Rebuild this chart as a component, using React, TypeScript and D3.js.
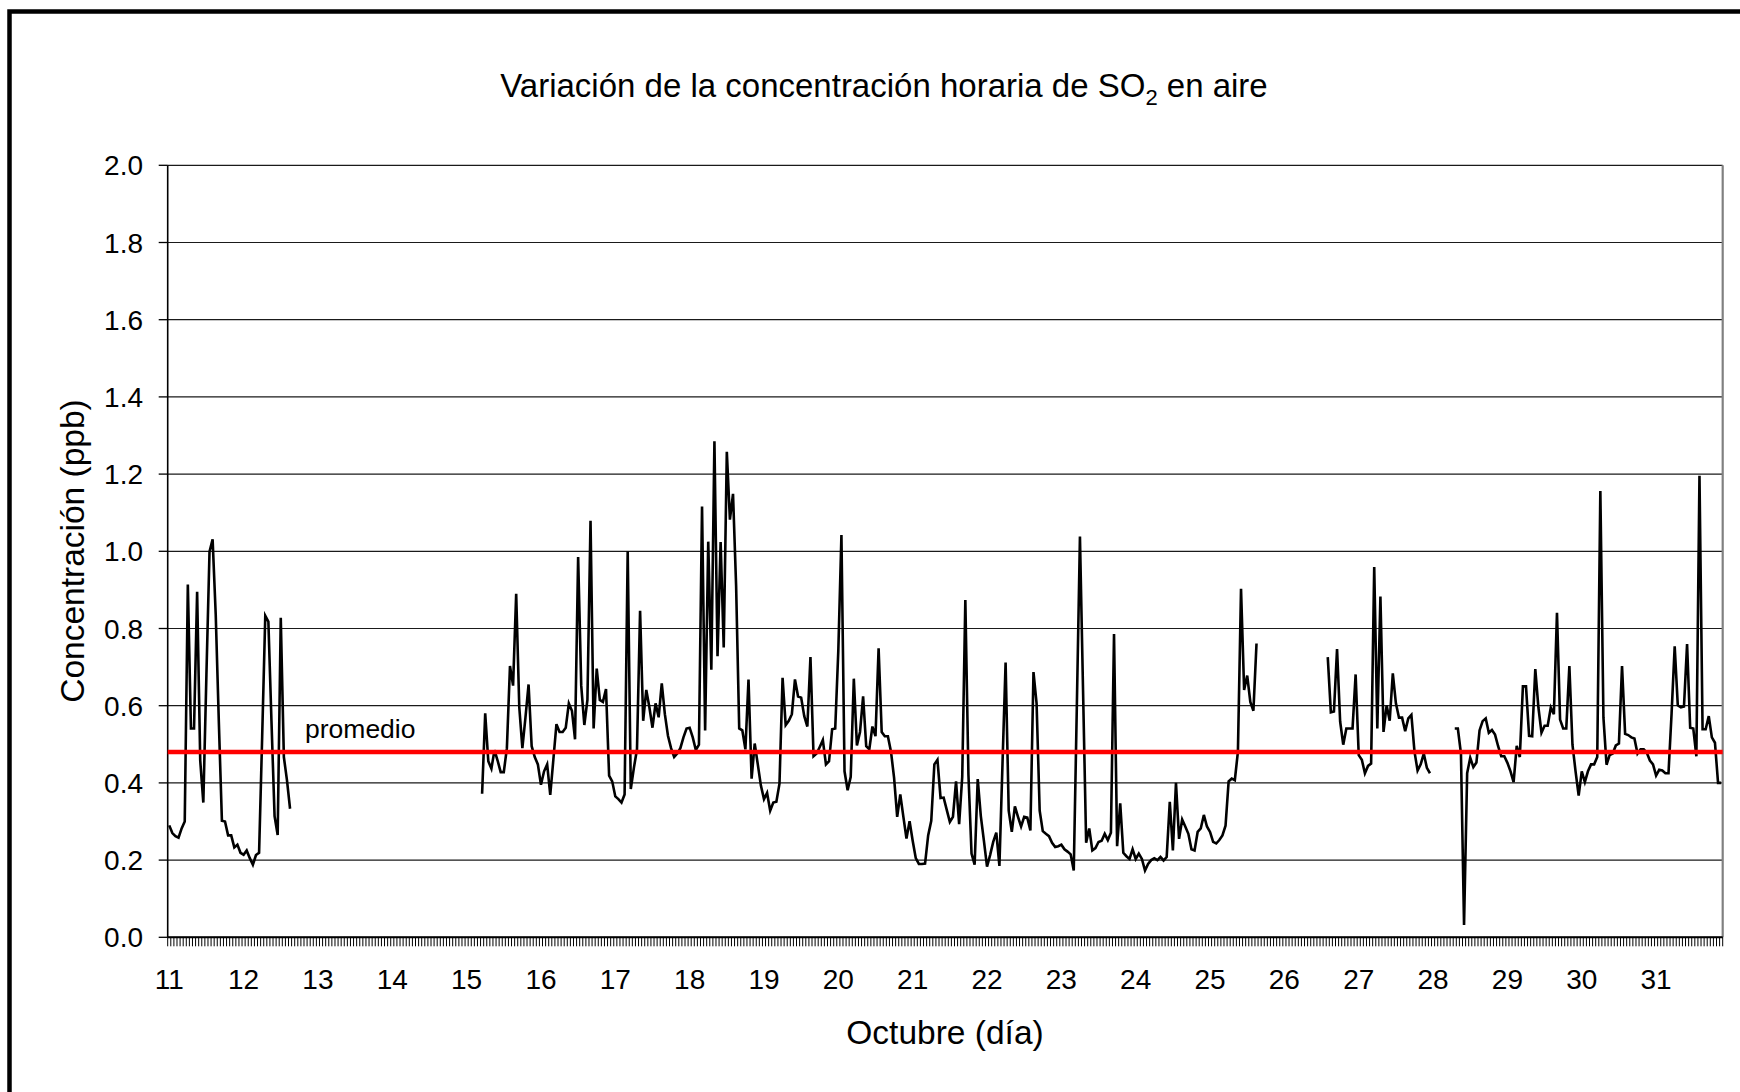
import React from 'react';
import * as d3 from 'd3';

// ---- data ----
const dayLabels = [11, 12, 13, 14, 15, 16, 17, 18, 19, 20, 21, 22, 23, 24, 25, 26, 27, 28, 29, 30, 31];
const hoursPerDay = 24;
const totalHours = 502;
const yTicks = [0, 0.2, 0.4, 0.6, 0.8, 1.0, 1.2, 1.4, 1.6, 1.8, 2.0];
const promedio = 0.48;

const segAStart = 0;
const segA = [
  0.29, 0.27, 0.262, 0.258, 0.282, 0.30, 0.914, 0.541, 0.541, 0.895,
  0.458, 0.349, 0.68, 0.999, 1.031, 0.837, 0.56, 0.302, 0.30, 0.264,
  0.264, 0.233, 0.24, 0.219, 0.214, 0.225, 0.205, 0.188, 0.213, 0.219,
  0.52, 0.833, 0.818, 0.56, 0.314, 0.265, 0.828, 0.467, 0.407, 0.333,
];

const segBStart = 101;
const segB = [
  0.372, 0.58, 0.456, 0.437, 0.485, 0.458, 0.428, 0.428, 0.49, 0.703,
  0.652, 0.89, 0.596, 0.49, 0.57, 0.655, 0.495, 0.467, 0.448, 0.395,
  0.43, 0.448, 0.369, 0.46, 0.552, 0.532, 0.532, 0.543, 0.606, 0.587,
  0.513, 0.985, 0.652, 0.55, 0.615, 1.079, 0.541, 0.696, 0.615, 0.61,
  0.643, 0.419, 0.404, 0.365, 0.358, 0.349, 0.37, 1.0, 0.384, 0.439,
  0.487, 0.846, 0.561, 0.641, 0.596, 0.543, 0.606, 0.57, 0.658, 0.578,
  0.522, 0.49, 0.467, 0.476, 0.49, 0.518, 0.541, 0.543, 0.518, 0.485,
  0.499, 1.116, 0.536, 1.025, 0.693, 1.285, 0.728, 1.024, 0.751, 1.258,
  1.082, 1.149, 0.911, 0.541, 0.536, 0.487, 0.668, 0.411, 0.502, 0.448,
  0.393, 0.358, 0.374, 0.328, 0.349, 0.351, 0.398, 0.672, 0.55, 0.561,
  0.578, 0.668, 0.624, 0.621, 0.573, 0.546, 0.726, 0.469, 0.476, 0.493,
  0.511, 0.448, 0.456, 0.539, 0.541, 0.744, 1.042, 0.43, 0.381, 0.416,
  0.67, 0.497, 0.532, 0.624, 0.495, 0.487, 0.546, 0.521, 0.749, 0.532,
  0.521, 0.521, 0.481, 0.413, 0.312, 0.37, 0.312, 0.256, 0.301, 0.25,
  0.205, 0.19, 0.19, 0.191, 0.264, 0.302, 0.448, 0.46, 0.361, 0.362,
  0.33, 0.299, 0.312, 0.404, 0.293, 0.416, 0.874, 0.421, 0.217, 0.188,
  0.41, 0.314, 0.25, 0.183, 0.213, 0.247, 0.271, 0.185, 0.45, 0.712,
  0.328, 0.273, 0.339, 0.312, 0.287, 0.312, 0.31, 0.277, 0.687, 0.606,
  0.328, 0.275, 0.268, 0.262, 0.245, 0.234, 0.236, 0.24, 0.228, 0.222,
  0.215, 0.173, 0.6, 1.038, 0.64, 0.245, 0.282, 0.225, 0.231, 0.247,
  0.25, 0.268, 0.252, 0.271, 0.786, 0.236, 0.347, 0.219, 0.21, 0.203,
  0.228, 0.203, 0.217, 0.203, 0.173, 0.19, 0.2, 0.205, 0.2, 0.208,
  0.199, 0.208, 0.351, 0.225, 0.4, 0.255, 0.305, 0.287, 0.268, 0.228,
  0.225, 0.273, 0.282, 0.317, 0.287, 0.273, 0.247, 0.243, 0.252, 0.264,
  0.289, 0.404, 0.411, 0.407, 0.481, 0.903, 0.641, 0.678, 0.61, 0.587,
  0.761,
];

const segCStart = 374;
const segC = [
  0.726, 0.583, 0.585, 0.747, 0.559, 0.499, 0.541, 0.541, 0.541, 0.681,
  0.472, 0.46, 0.425, 0.444, 0.45, 0.959, 0.541, 0.883, 0.532, 0.601,
  0.561, 0.684, 0.606, 0.569, 0.569, 0.534, 0.567, 0.576, 0.481, 0.432,
  0.448, 0.476, 0.439, 0.425,
];

const segDStart = 415;
const segD = [
  0.541, 0.541, 0.476, 0.032, 0.425, 0.465, 0.441, 0.453, 0.536, 0.56,
  0.567, 0.53, 0.537, 0.525, 0.495, 0.469, 0.469, 0.452, 0.43, 0.402,
  0.496, 0.467, 0.65, 0.65, 0.522, 0.521, 0.695, 0.596, 0.53, 0.548,
  0.548, 0.595, 0.578, 0.841, 0.564, 0.541, 0.541, 0.703, 0.499, 0.43,
  0.367, 0.43, 0.402, 0.43, 0.448, 0.448, 0.467, 1.156, 0.569, 0.447,
  0.472, 0.476, 0.497, 0.502, 0.703, 0.527, 0.524, 0.518, 0.515, 0.476,
  0.487, 0.487, 0.478, 0.458, 0.448, 0.419, 0.434, 0.432, 0.425, 0.425,
  0.58, 0.754, 0.601, 0.596, 0.598, 0.76, 0.543, 0.541, 0.469, 1.196,
  0.539, 0.539, 0.573, 0.518, 0.504, 0.4, 0.4,
];

const FONT = "'Liberation Sans', Arial, Helvetica, sans-serif";

export default function App() {
  const W = 1740;
  const H = 1092;
  const left = 167.7;
  const right = 1722.7;
  const top = 165.3;
  const bottom = 937.3;

  const x = d3.scaleBand<number>().domain(d3.range(totalHours)).range([left, right]).paddingInner(0).paddingOuter(0);
  const y = d3.scaleLinear().domain([0, 2]).range([bottom, top]);
  const bw = x.bandwidth();

  const series: (number | null)[] = new Array(totalHours).fill(null);
  ([[segAStart, segA], [segBStart, segB], [segCStart, segC], [segDStart, segD]] as [number, number[]][]).forEach(
    ([s, arr]) => arr.forEach((v, k) => { series[s + k] = v; })
  );

  const line = d3
    .line<number | null>()
    .defined((d) => d != null)
    .x((_d, i) => (x(i) as number) + bw / 2)
    .y((d) => y(d as number));

  const hatch = d3.range(totalHours + 1)
    .map((i) => { const xx = left + i * bw; return `M${xx.toFixed(2)},${bottom}V${bottom + 9}`; })
    .join('');

  return (
    <div style={{ position: 'absolute', left: 0, top: 0, width: W, height: H, background: '#fff' }}>
      <svg width={W} height={H} viewBox={`0 0 ${W} ${H}`} style={{ display: 'block' }}>
        <rect x={0} y={0} width={W} height={H} fill="#fff" />
        {/* outer frame */}
        <rect x={9.5} y={11.5} width={1800} height={1200} fill="none" stroke="#000" strokeWidth={4.5} />

        {/* title */}
        <text x={884} y={97} textAnchor="middle" fontFamily={FONT} fontSize={33} fill="#000">
          Variación de la concentración horaria de SO<tspan dy={8} fontSize={22}>2</tspan><tspan dy={-8}> en aire</tspan>
        </text>

        {/* gridlines */}
        {yTicks.map((t) => (
          <line key={`g${t}`} x1={left} x2={right} y1={y(t)} y2={y(t)} stroke="#1a1a1a" strokeWidth={1.2} />
        ))}
        {/* right border (gray) */}
        <line x1={right} x2={right} y1={top} y2={bottom} stroke="#808080" strokeWidth={2.2} />

        {/* y axis */}
        <line x1={left} x2={left} y1={top} y2={bottom} stroke="#000" strokeWidth={1.6} />
        {yTicks.map((t) => (
          <g key={`yt${t}`}>
            <line x1={left - 9} x2={left} y1={y(t)} y2={y(t)} stroke="#000" strokeWidth={1.3} />
            <text x={143} y={y(t)} dy="0.36em" textAnchor="end" fontFamily={FONT} fontSize={28} fill="#000">
              {d3.format('.1f')(t)}
            </text>
          </g>
        ))}

        {/* x axis */}
        <path d={hatch} stroke="#000" strokeWidth={1} fill="none" />
        <line x1={left} x2={right} y1={bottom} y2={bottom} stroke="#000" strokeWidth={2} />
        {dayLabels.map((d, k) => (
          <text key={`xl${d}`} x={(x(k * hoursPerDay) as number) + bw / 2} y={989} textAnchor="middle" fontFamily={FONT} fontSize={28} fill="#000">
            {d}
          </text>
        ))}

        {/* axis titles */}
        <text x={945} y={1044} textAnchor="middle" fontFamily={FONT} fontSize={33.5} fill="#000">Octubre (día)</text>
        <text transform="translate(84,551) rotate(-90)" textAnchor="middle" fontFamily={FONT} fontSize={33.5} fill="#000">
          Concentración (ppb)
        </text>

        {/* data line */}
        <path d={line(series) || ''} fill="none" stroke="#000" strokeWidth={2.6} strokeLinejoin="miter" strokeMiterlimit={4} />

        {/* promedio */}
        <line x1={left} x2={right} y1={y(promedio)} y2={y(promedio)} stroke="#ff0000" strokeWidth={4.5} />
        <text x={305} y={738} fontFamily={FONT} fontSize={26.5} fill="#000">promedio</text>
      </svg>
    </div>
  );
}
